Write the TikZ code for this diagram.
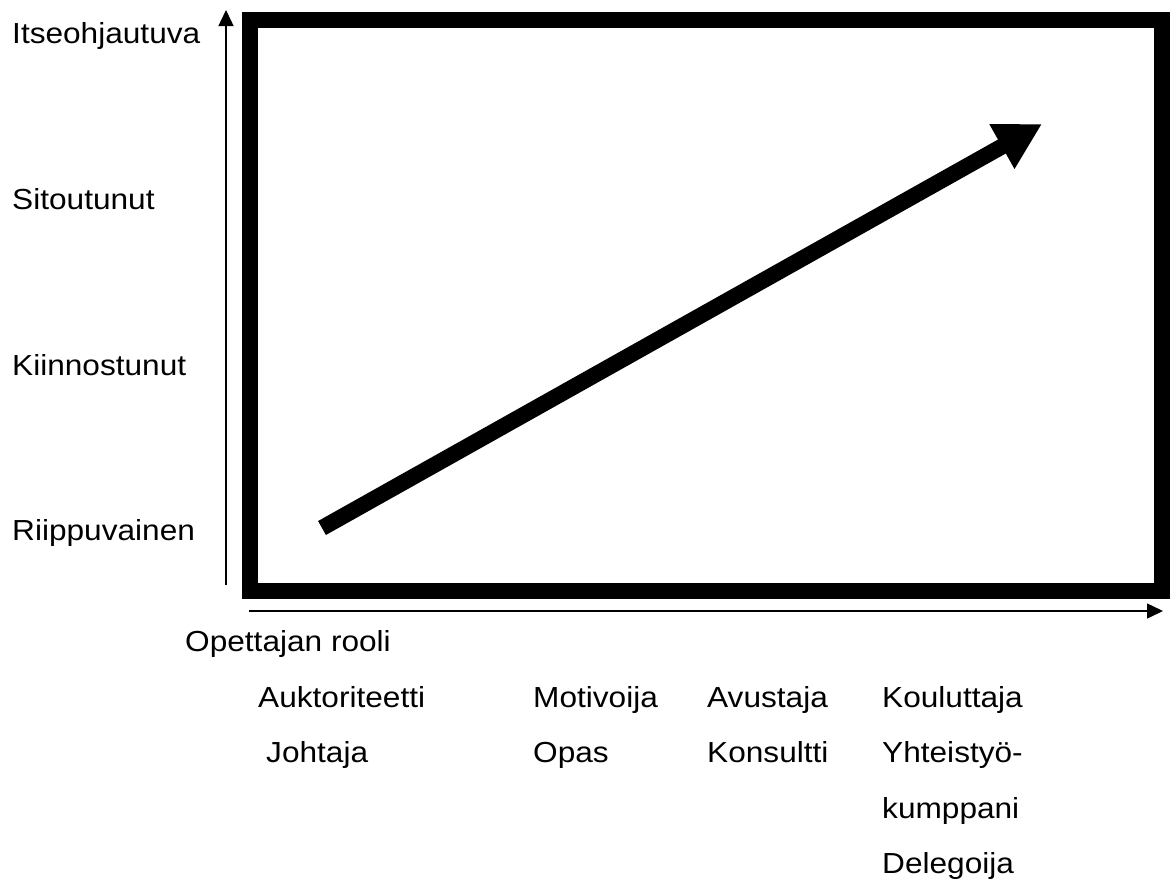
\documentclass[tikz,border=0pt]{standalone}
\usepackage{fontspec}
\setmainfont{Liberation Sans}
\usetikzlibrary{arrows.meta}
\begin{document}
\begin{tikzpicture}[x=1pt,y=-1pt,
  lbl/.style={anchor=base west,inner sep=0pt,xscale=1.09,font=\fontsize{29}{35}\selectfont},
  axis/.style={line width=1.5pt,-{Triangle[length=16pt,width=15pt]}},
  frame/.style={line width=16pt},
  bigarrow/.style={line width=16pt,-{Triangle[length=46pt,width=48pt]}}]
\useasboundingbox (0,0) rectangle (1176,879);
\coordinate (bnw) at (249.5,20);
\coordinate (bse) at (1162,591);
\draw[frame] (bnw) rectangle (bse);
\coordinate (vb) at (226,585);
\coordinate (vt) at (226,10);
\coordinate (hl) at (249,611);
\coordinate (hr) at (1163,611);
\draw[axis] (vb) -- (vt);
\draw[axis] (hl) -- (hr);
\coordinate (as) at (322,528);
\coordinate (ae) at (1042,124);
\draw[bigarrow] (as) -- (ae);
\node[lbl] (l1) at (12,43) {Itseohjautuva};
\node[lbl] (l2) at (12,209) {Sitoutunut};
\node[lbl] (l3) at (12,375) {Kiinnostunut};
\node[lbl] (l4) at (12,540) {Riippuvainen};
\node[lbl] (or) at (185,651) {Opettajan rooli};
\node[lbl] (a1) at (258,707) {Auktoriteetti};
\node[lbl] (a2) at (266,762) {Johtaja};
\node[lbl] (m1) at (533,707) {Motivoija};
\node[lbl] (m2) at (533,762) {Opas};
\node[lbl] (v1) at (707,707) {Avustaja};
\node[lbl] (v2) at (707,762) {Konsultti};
\node[lbl] (k1) at (882,707) {Kouluttaja};
\node[lbl] (k2) at (882,762) {Yhteistyö-};
\node[lbl] (k3) at (882,818) {kumppani};
\node[lbl] (k4) at (882,873) {Delegoija};
\end{tikzpicture}
\end{document}
